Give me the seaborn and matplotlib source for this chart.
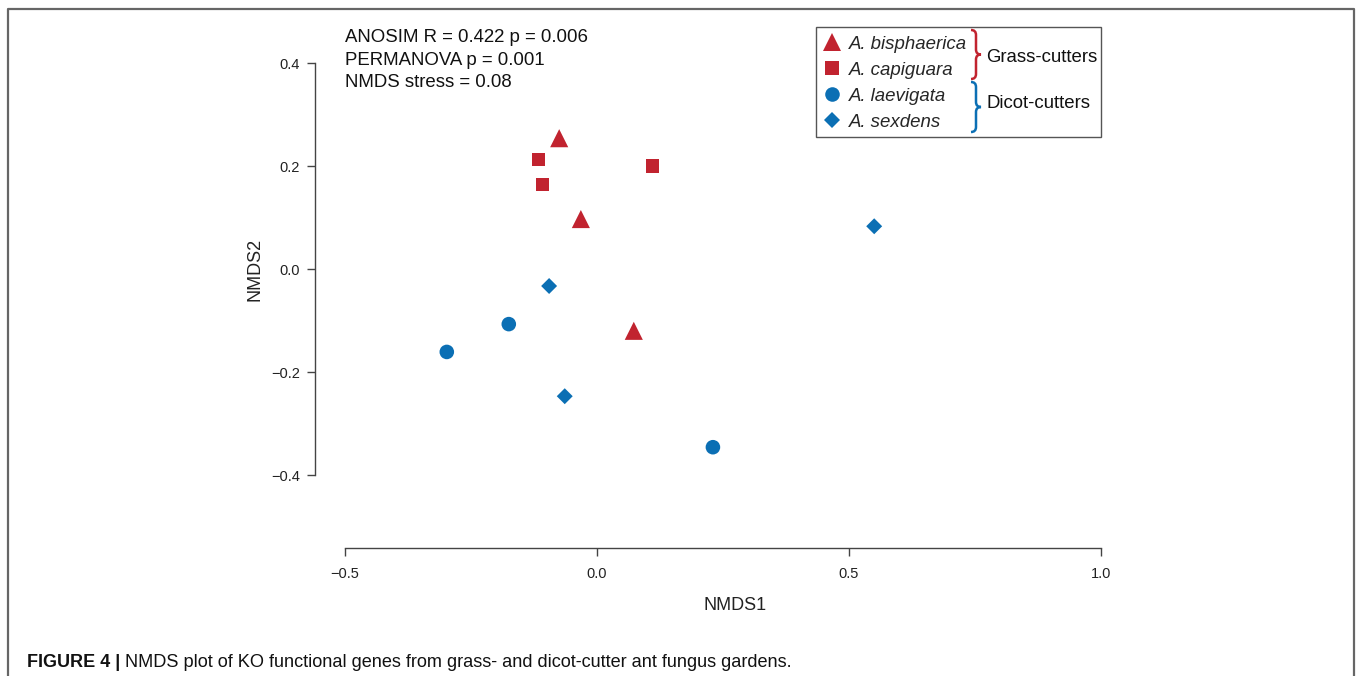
import matplotlib

matplotlib.use("Agg")
import matplotlib.pyplot as plt
import pandas as pd
import seaborn as sns
from matplotlib.lines import Line2D
from matplotlib.patches import PathPatch, Rectangle
from matplotlib.path import Path

W, H = 1357, 676

SPECIES_ORDER = ["A. bisphaerica", "A. capiguara", "A. laevigata", "A. sexdens"]
SPECIES = (
    ["A. bisphaerica"] * 3
    + ["A. capiguara"] * 3
    + ["A. laevigata"] * 3
    + ["A. sexdens"] * 3
)
NMDS1 = [-0.075, -0.032, 0.073, -0.117, -0.109, 0.111, -0.298, -0.175, 0.230, -0.095, -0.064, 0.550]
NMDS2 = [0.254, 0.097, -0.120, 0.212, 0.165, 0.200, -0.161, -0.107, -0.346, -0.033, -0.247, 0.083]

X_TICKS = [-0.5, 0.0, 0.5, 1.0]
Y_TICKS = [-0.4, -0.2, 0.0, 0.2, 0.4]
STATS_LINES = ["ANOSIM R = 0.422 p = 0.006", "PERMANOVA p = 0.001", "NMDS stress = 0.08"]
GROUPS = ["Grass-cutters", "Dicot-cutters"]
CAPTION_BOLD = "FIGURE 4 |"
CAPTION = "NMDS plot of KO functional genes from grass- and dicot-cutter ant fungus gardens."

RED = "#C1232F"
BLUE = "#0B6FB4"
PALETTE = {"A. bisphaerica": RED, "A. capiguara": RED, "A. laevigata": BLUE, "A. sexdens": BLUE}
MARKERS = {"A. bisphaerica": "^", "A. capiguara": "s", "A. laevigata": "o", "A. sexdens": "D"}
SIZES = {"A. bisphaerica": 170, "A. capiguara": 88, "A. laevigata": 110, "A. sexdens": 66}

FONT = ["Liberation Sans", "DejaVu Sans"]


def fx(px):
    return px / W


def fy(py):
    return 1 - py / H


def brace(fig, x0, top, bottom, color):
    mid = (top + bottom) / 2
    w = 5
    verts = [
        (x0, top), (x0 + w, top), (x0 + w, top + w),
        (x0 + w, mid - w),
        (x0 + w, mid), (x0 + 2 * w, mid),
        (x0 + w, mid), (x0 + w, mid + w),
        (x0 + w, bottom - w),
        (x0 + w, bottom), (x0, bottom),
    ]
    codes = [
        Path.MOVETO, Path.CURVE3, Path.CURVE3,
        Path.LINETO,
        Path.CURVE3, Path.CURVE3,
        Path.CURVE3, Path.CURVE3,
        Path.LINETO,
        Path.CURVE3, Path.CURVE3,
    ]
    verts = [(fx(x), fy(y)) for x, y in verts]
    fig.add_artist(
        PathPatch(Path(verts, codes), transform=fig.transFigure,
                  facecolor="none", edgecolor=color, linewidth=1.8, zorder=2)
    )


def main():
    sns.set_style("ticks")
    plt.rcParams["font.family"] = FONT

    df = pd.DataFrame({"species": SPECIES, "NMDS1": NMDS1, "NMDS2": NMDS2})

    fig = plt.figure(figsize=(W / 100, H / 100), dpi=100)
    ax = fig.add_axes([fx(315), fy(548), fx(1101) - fx(315), fy(27) - fy(548)])
    ax.patch.set_alpha(0)

    sns.scatterplot(
        data=df, x="NMDS1", y="NMDS2",
        hue="species", style="species", size="species",
        hue_order=SPECIES_ORDER, style_order=SPECIES_ORDER, size_order=SPECIES_ORDER,
        palette=PALETTE, markers=MARKERS, sizes=SIZES,
        linewidth=0, alpha=1, ax=ax,
    )

    ax.set_xlim(-0.5595, 1.0)
    ax.set_ylim(-0.5417, 0.4699)
    ax.set_xticks(X_TICKS)
    ax.set_yticks(Y_TICKS)
    ax.set_xticklabels([f"{v:.1f}".replace("-", "\u2212") for v in X_TICKS])
    ax.set_yticklabels([f"{v:.1f}".replace("-", "\u2212") for v in Y_TICKS])
    for side in ["top", "right"]:
        ax.spines[side].set_visible(False)
    ax.spines["left"].set_bounds(-0.4, 0.4)
    ax.spines["bottom"].set_bounds(-0.5, 1.0)
    for side in ["left", "bottom"]:
        ax.spines[side].set_color("#444444")
        ax.spines[side].set_linewidth(1.0)
    ax.tick_params(axis="both", length=6, width=1.0, color="#444444", labelsize=10.5, labelcolor="#222222")
    ax.tick_params(axis="x", pad=8)
    ax.tick_params(axis="y", pad=5)

    ax.set_xlabel("NMDS1", fontsize=13, color="#222222")
    ax.set_ylabel("NMDS2", fontsize=13, color="#222222")
    ax.xaxis.set_label_coords(0.534, -0.094)
    ax.yaxis.set_label_coords(-0.066, 0.5355)

    for i, line in enumerate(STATS_LINES):
        fig.text(fx(345), fy(29 + i * 22.7), line, fontsize=13.4, va="top", ha="left", color="#111111")

    # species legend (seaborn) without frame, box drawn by hand around it and the groups
    sns.move_legend(
        ax, "upper left", bbox_to_anchor=(fx(815), fy(32)),
        bbox_transform=fig.transFigure, frameon=False, title=None,
        fontsize=13.4, labelspacing=0.48, handletextpad=0.2, borderpad=0.2,
        handlelength=1.4, borderaxespad=0,
    )
    for text in ax.get_legend().get_texts():
        text.set_style("italic")

    fig.add_artist(
        Rectangle((fx(816), fy(137)), fx(1101) - fx(816), fy(27) - fy(137),
                  transform=fig.transFigure, facecolor="none", edgecolor="#555555",
                  linewidth=1.0, zorder=2)
    )
    brace(fig, 971, 30, 79, RED)
    brace(fig, 971, 82, 132, BLUE)
    fig.text(fx(986), fy(57), GROUPS[0], fontsize=13.4, va="center", ha="left", color="#111111")
    fig.text(fx(986), fy(104), GROUPS[1], fontsize=13.4, va="center", ha="left", color="#111111")

    # outer frame (open at the bottom)
    frame = dict(transform=fig.transFigure, color="#666666", linewidth=1.6)
    fig.add_artist(Line2D([fx(8), fx(8), fx(1354), fx(1354)], [0, fy(9), fy(9), 0], **frame))

    bold = fig.text(fx(27), fy(667), CAPTION_BOLD, fontsize=13, fontweight="bold",
                    va="baseline", ha="left", color="#111111")
    fig.canvas.draw()
    bb = bold.get_window_extent()
    fig.text(fx(bb.x1 + 5), fy(667), CAPTION, fontsize=13.1,
             va="baseline", ha="left", color="#111111")

    fig.savefig("out.png", dpi=100)
    plt.close(fig)


if __name__ == "__main__":
    main()
